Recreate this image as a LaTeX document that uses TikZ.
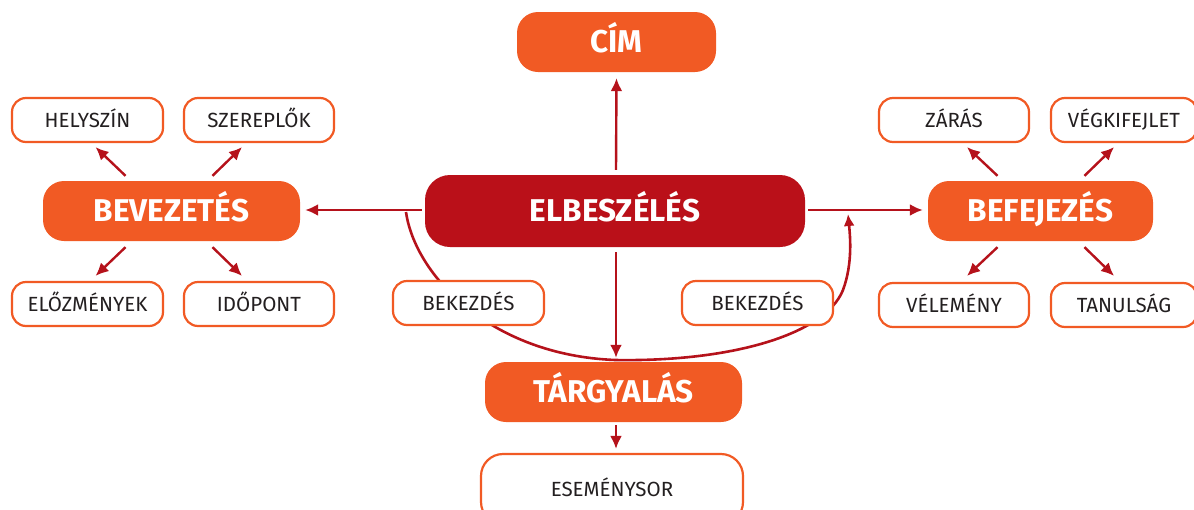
\documentclass[tikz,border=0pt]{standalone}
\usepackage{fontspec}
\setmainfont{Fira Sans}
\usetikzlibrary{arrows.meta,calc}
\definecolor{org}{HTML}{F15A24}
\definecolor{dred}{HTML}{BA1019}
\definecolor{ared}{HTML}{B5121B}
\definecolor{txt}{HTML}{231F20}
\tikzset{
  big/.style={fill=org, draw=none, rounded corners=21pt, inner sep=0pt, text=white,
    font=\fontsize{31.5}{31.5}\selectfont\bfseries, text height=21.7pt, text depth=0pt, align=center},
  small/.style={fill=white, draw=org, line width=2.2pt, rounded corners=14pt, inner sep=0pt, text=txt,
    font=\fontsize{20.5}{20.5}\selectfont, text height=14.1pt, text depth=0pt, align=center},
  arr/.style={draw=ared, line width=2.4pt, -{Latex[length=13pt,width=12pt]}},
  conn/.style={draw=ared, line width=2.6pt},
}
\begin{document}
\begin{tikzpicture}[x=1pt,y=-1pt]
\useasboundingbox (0,0) rectangle (1194,509);
% main nodes
\node[big, minimum width=199pt, minimum height=60pt] (cim) at (616.5,42) {CÍM};
\node[big, fill=dred, minimum width=380pt, minimum height=72pt, rounded corners=25pt] (elb) at (615,211) {ELBESZÉLÉS};
\node[big, minimum width=257pt, minimum height=60pt] (bev) at (171.5,211) {BEVEZETÉS};
\node[big, minimum width=225pt, minimum height=60pt] (bef) at (1040.5,211) {BEFEJEZÉS};
\node[big, minimum width=257pt, minimum height=60pt] (targ) at (613.5,392) {TÁRGYALÁS};
% curve under the paragraph boxes
\coordinate (cs) at (406,212);
\coordinate (ce) at (848,214);
\draw[conn, -{Latex[length=12pt,width=11pt]}] (cs) .. controls (415,275) and (490,355) .. (615,360)
  .. controls (730,362) and (825,335) .. (843,290)
  .. controls (853,263) and (850,235) .. (ce);
% small nodes
\node[small, minimum width=151pt, minimum height=44pt] (hely) at (87.5,120) {HELYSZÍN};
\node[small, minimum width=150pt, minimum height=44pt] (szer) at (259,120) {SZEREPLŐK};
\node[small, minimum width=151pt, minimum height=44pt] (elo) at (87.5,304) {ELŐZMÉNYEK};
\node[small, minimum width=150pt, minimum height=44pt] (ido) at (259,304) {IDŐPONT};
\node[small, minimum width=150pt, minimum height=44pt] (zar) at (954,120) {ZÁRÁS};
\node[small, minimum width=146pt, minimum height=44pt] (vegk) at (1124,120) {VÉGKIFEJLET};
\node[small, minimum width=150pt, minimum height=44pt] (vel) at (954,305) {VÉLEMÉNY};
\node[small, minimum width=146pt, minimum height=44pt] (tan) at (1124,305) {TANULSÁG};
\node[small, minimum width=151pt, minimum height=44pt] (bk1) at (468.5,303) {BEKEZDÉS};
\node[small, minimum width=151pt, minimum height=44pt] (bk2) at (757.5,303) {BEKEZDÉS};
\node[small, minimum width=262pt, minimum height=70pt, rounded corners=22pt] (esem) at (612,489) {ESEMÉNYSOR};
% straight arrows from ELBESZÉLÉS
\draw[arr] (elb.north) ++(1,-5) -- ($(cim.south)+(0,6)$);
\draw[arr] ($(elb.west)+(-3,-1)$) -- ($(bev.east)+(5,-1)$);
\draw[arr] ($(elb.east)+(3,-1)$) -- ($(bef.west)+(-5,-1)$);
\draw[arr] ($(elb.south)+(1,5)$) -- ($(targ.north)+(2.5,-4)$);
\draw[arr] ($(targ.south)+(2.5,3)$) -- ($(esem.north)+(4,-4)$);
% BEVEZETÉS branches
\draw[arr] ($(bev.north)+(-46,-5)$) -- ($(hely.south)+(8,4)$);
\draw[arr] ($(bev.north)+(41,-5)$) -- ($(szer.south)+(-17,4)$);
\draw[arr] ($(bev.south)+(-46,6)$) -- ($(elo.north)+(8,-5)$);
\draw[arr] ($(bev.south)+(41,6)$) -- ($(ido.north)+(-17,-5)$);
% BEFEJEZÉS branches
\draw[arr] ($(bef.north)+(-43,-5)$) -- ($(zar.south)+(13,4)$);
\draw[arr] ($(bef.north)+(44,-5)$) -- ($(vegk.south)+(-10,4)$);
\draw[arr] ($(bef.south)+(-43,6)$) -- ($(vel.north)+(13,-6)$);
\draw[arr] ($(bef.south)+(44,6)$) -- ($(tan.north)+(-10,-6)$);
\end{tikzpicture}
\end{document}
